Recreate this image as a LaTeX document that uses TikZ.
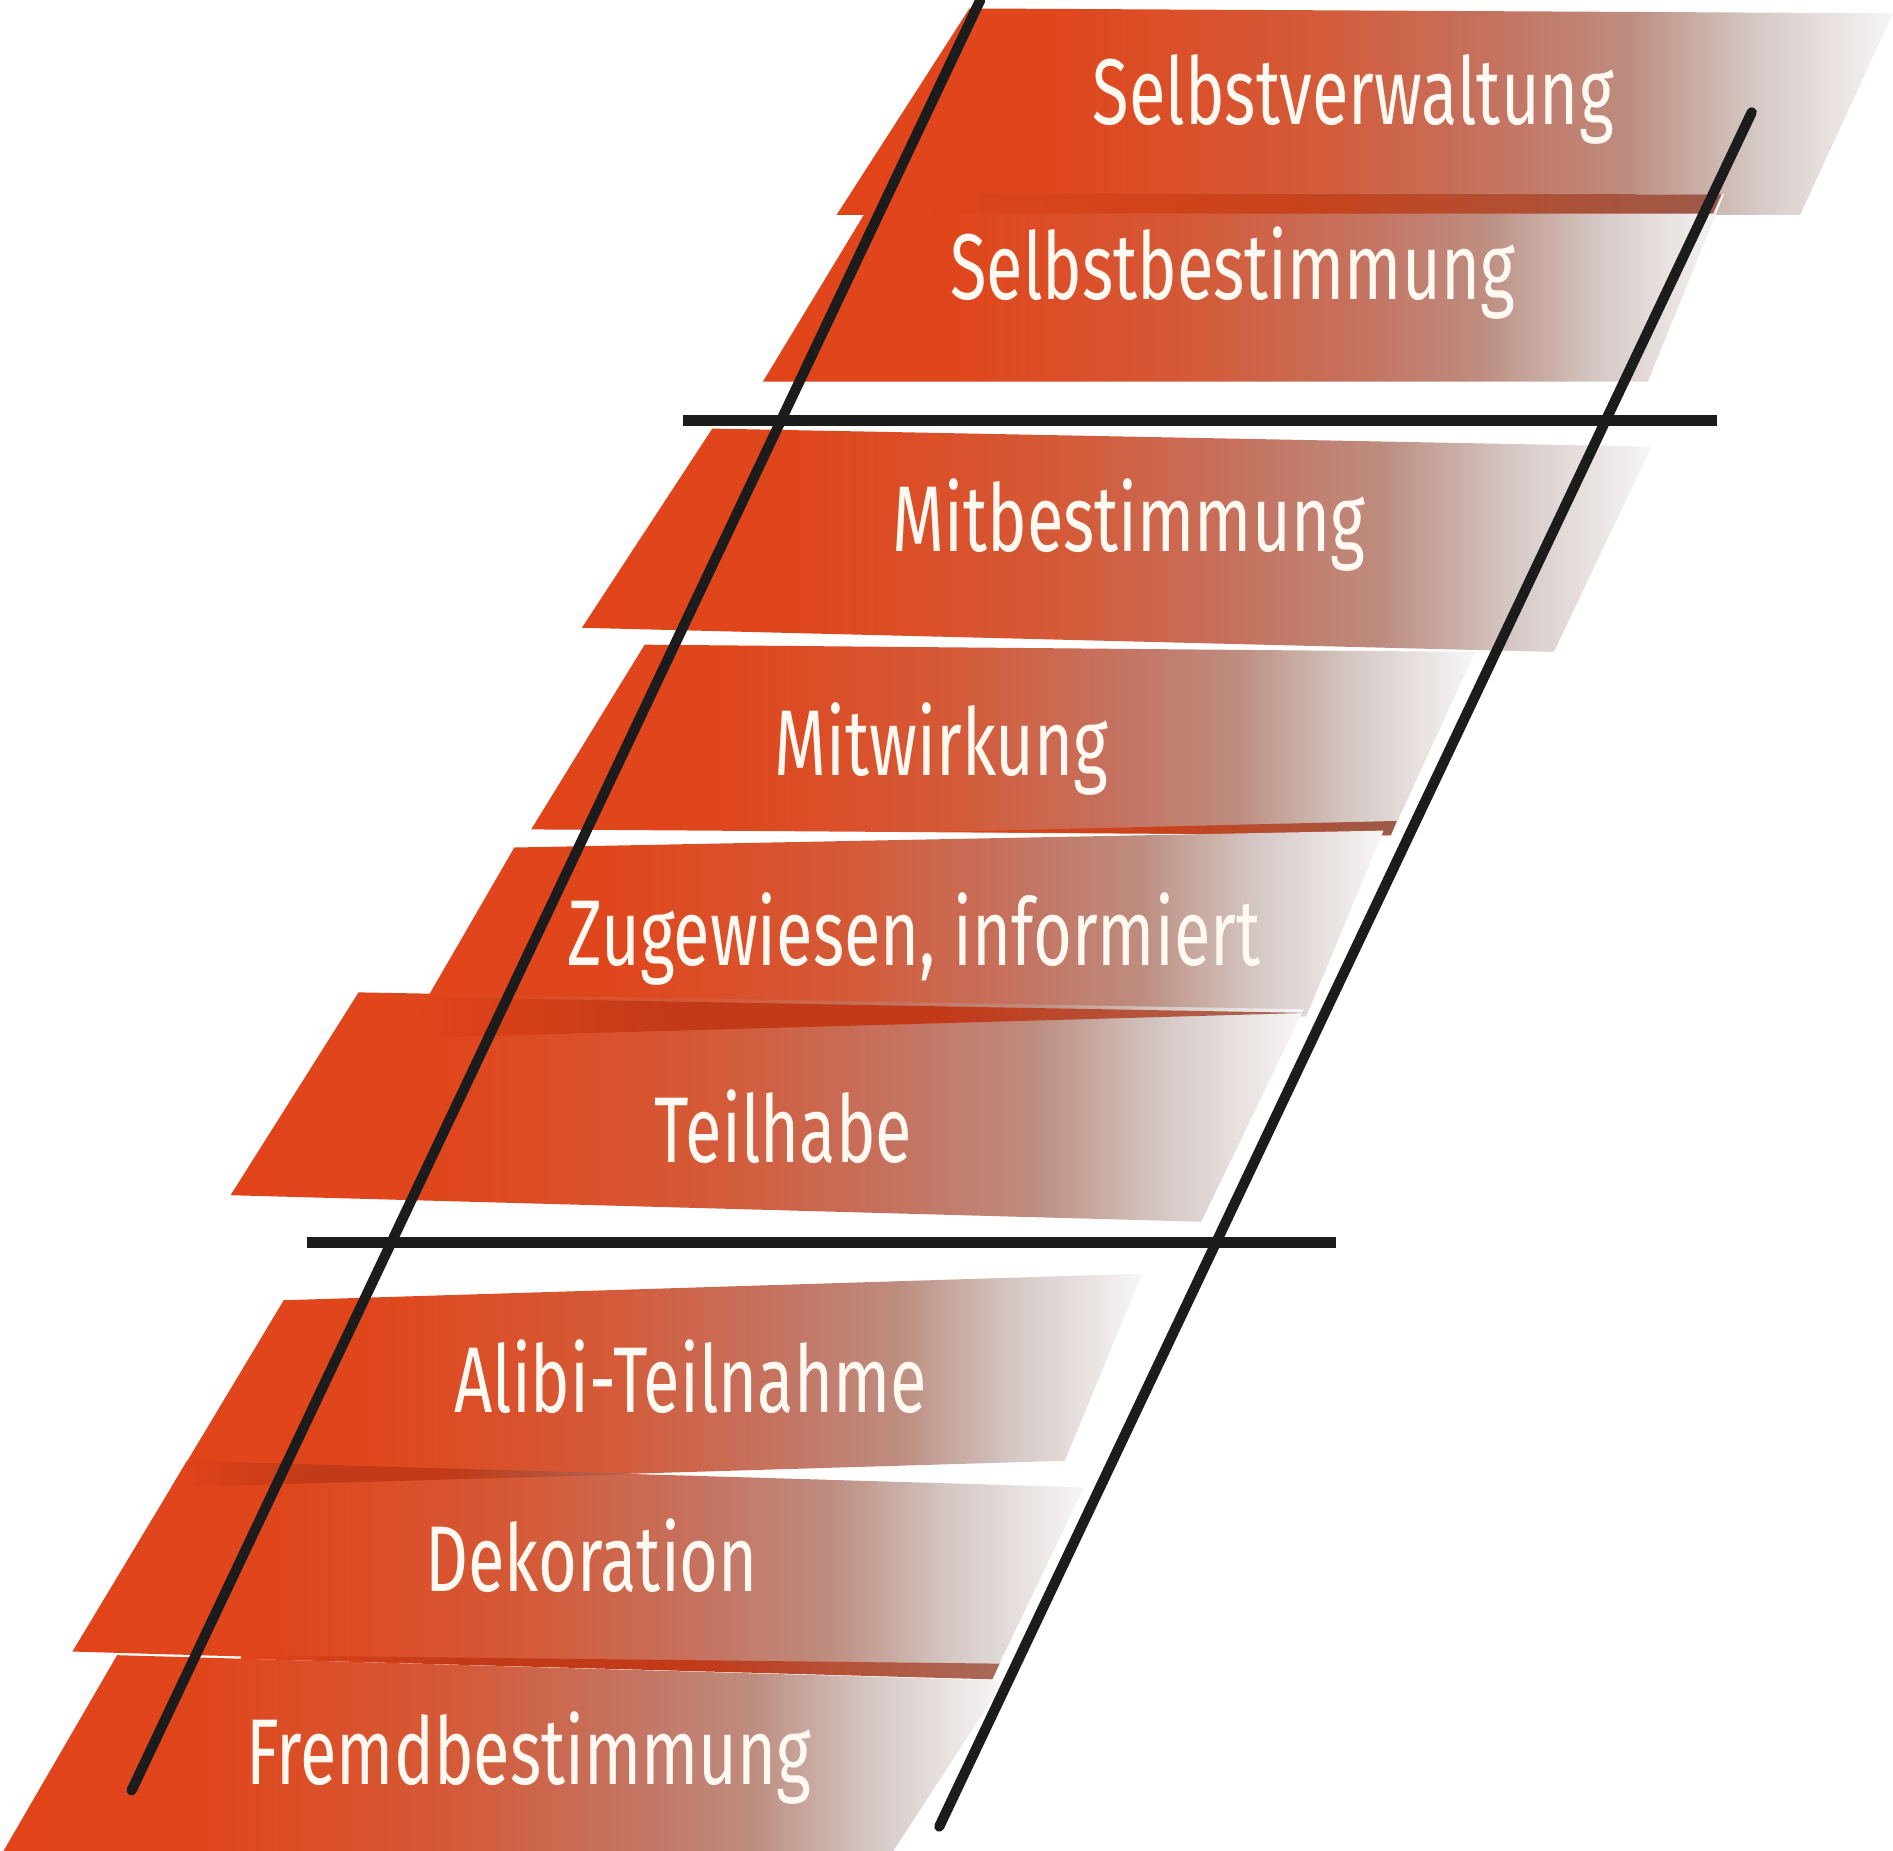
\documentclass[tikz,border=0pt]{standalone}
\usepackage{fontspec}
\newfontfamily\bandfont[FakeStretch=0.715]{Fira Sans}
\definecolor{o0}{HTML}{E2441A}
\definecolor{o1}{HTML}{E0461C}
\definecolor{o2}{HTML}{D45A38}
\definecolor{o3}{HTML}{C57260}
\definecolor{o4}{HTML}{BD8D80}
\definecolor{o5}{HTML}{D5C9C5}
\definecolor{o6}{HTML}{F7F6F6}
\definecolor{wa1}{HTML}{C8431C}
\definecolor{wa2}{HTML}{9C5A4A}
\definecolor{wb1}{HTML}{C23A18}
\definecolor{wb2}{HTML}{A86A5A}
\definecolor{railc}{HTML}{1C1C1C}
\definecolor{txt}{HTML}{FFF9F2}
\pgfdeclarehorizontalshading{bandfade}{100bp}{color(0bp)=(o0); color(25bp)=(o0); color(35bp)=(o1); color(47.5bp)=(o2); color(56bp)=(o3); color(62.5bp)=(o4); color(68.5bp)=(o5); color(75bp)=(o6); color(100bp)=(o6)}
\pgfdeclarehorizontalshading{wedgea}{100bp}{color(0bp)=(o0); color(25bp)=(o0); color(50bp)=(wa1); color(75bp)=(wa2); color(100bp)=(wa2)}
\pgfdeclarehorizontalshading{wedgeb}{100bp}{color(0bp)=(o0); color(25bp)=(o0); color(40bp)=(wb1); color(55bp)=(wb1); color(75bp)=(wb2); color(100bp)=(wb2)}
\begin{document}
\begin{tikzpicture}[x=0.025cm,y=-0.025cm,
  bandfill/.style={shading=bandfade},
  wedgefilla/.style={shading=wedgea},
  wedgefillb/.style={shading=wedgeb},
  bandtext/.style={font=\bandfont\fontsize{55}{60}\selectfont, text=txt, anchor=base, inner sep=0pt},
  railline/.style={draw=railc, line width=6pt, line cap=round},
  rungline/.style={draw=railc, line width=6.5pt}]
\useasboundingbox (0,0) rectangle (1568,1533);
% bands
\shade[bandfill] (803,7) -- (1568,11) -- (1491,178) -- (693,178) -- cycle;
\shade[bandfill] (727,159) -- (1428,161) -- (1365,316) -- (632,316) -- cycle;
\shade[wedgefilla] (735,160) -- (1426,161) -- (1419,177) -- (724,177) -- cycle;
\shade[bandfill] (590,355) -- (1368,370) -- (1287,540) -- (482,520) -- cycle;
\shade[bandfill] (534,534) -- (1222,540) -- (1152,692) -- (440,687) -- cycle;
\shade[wedgefilla] (780,689) -- (1157,680) -- (1152,692) -- cycle;
\shade[bandfill] (426,702) -- (1146,688) -- (1082,842) -- (345,842) -- cycle;
\shade[bandfill] (297,822) -- (1080,836) -- (995,1012) -- (191,990) -- cycle;
\shade[wedgefillb] (354,826) -- (1083,839) -- (334,860) -- cycle;
\shade[bandfill] (235,1077) -- (946,1055) -- (882,1210) -- (142,1232) -- cycle;
\shade[bandfill] (155,1210) -- (898,1232) -- (822,1390) -- (60,1368) -- cycle;
\shade[wedgefillb] (155,1210) -- (530,1221) -- (142,1232) -- cycle;
\shade[bandfill] (97,1371) -- (832,1392) -- (740,1533) -- (3,1533) -- cycle;
\shade[wedgefillb] (200,1371) -- (828,1378) -- (822,1391) -- (200,1374) -- cycle;
% labels
\node[bandtext] (t1) at (1121,103) {Selbstverwaltung};
\node[bandtext] (t2) at (1021,248) {Selbstbestimmung};
\node[bandtext] (t3) at (935,457) {Mitbestimmung};
\node[bandtext] (t4) at (780,642) {Mitwirkung};
\node[bandtext] (t5) at (757,800) {Zugewiesen, informiert};
\node[bandtext] (t6) at (649,963) {Teilhabe};
\node[bandtext] (t7) at (572,1170) {Alibi-Teilnahme};
\node[bandtext] (t8) at (490,1318) {Dekoration};
\node[bandtext] (t9) at (438,1478) {Fremdbestimmung};
% ladder
\coordinate (r1a) at (566,348);
\coordinate (r1b) at (1422,348);
\coordinate (r2a) at (254,1029);
\coordinate (r2b) at (1107,1029);
\coordinate (lt) at (812,0);
\coordinate (lb) at (109,1483);
\coordinate (rt) at (1451,93);
\coordinate (rb) at (778,1513);
\draw[rungline] (r1a) -- (r1b);
\draw[rungline] (r2a) -- (r2b);
\draw[railline] (lt) -- (lb);
\draw[railline] (rt) -- (rb);
\end{tikzpicture}
\end{document}
